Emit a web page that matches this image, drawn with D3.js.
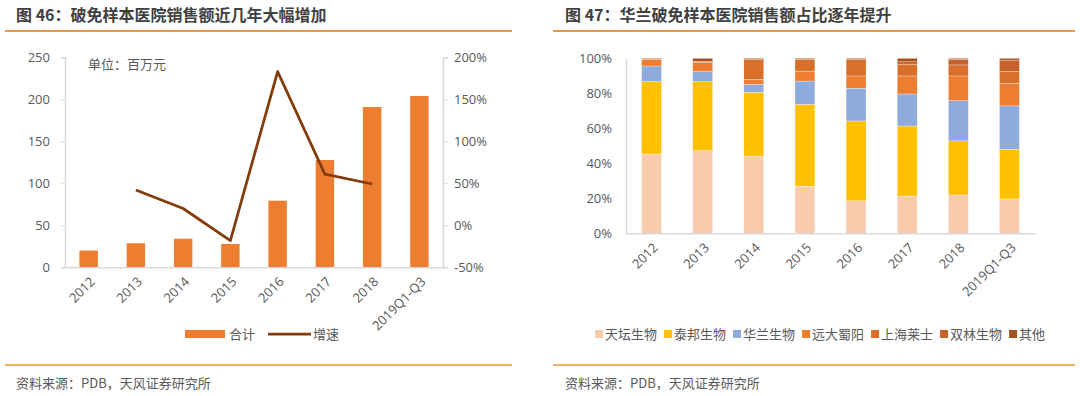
<!DOCTYPE html>
<html>
<head>
<meta charset="utf-8">
<script src="https://cdn.jsdelivr.net/npm/d3@7"></script>
<style>
  body { margin: 0; background: #fff; }
  svg { display: block; font-family: "Noto Sans CJK SC", "Noto Sans", sans-serif; }
</style>
</head>
<body>
<script>
// ---- data ----
var years = ["2012", "2013", "2014", "2015", "2016", "2017", "2018", "2019Q1-Q3"];
var totalSales = [20, 28.6, 34, 27.7, 79.3, 127.7, 190.8, 204];          // 百万元
var growth = [null, 42, 20, -18.3, 183, 61, 49.2, null];                 // %
var leftTicks = [0, 50, 100, 150, 200, 250];
var rightTicks = [-50, 0, 50, 100, 150, 200];

var companies = ["天坛生物", "泰邦生物", "华兰生物", "远大蜀阳", "上海莱士", "双林生物", "其他"];
var tiantan  = [45.3, 47.2, 44.0, 26.9, 18.5, 21.3, 21.9, 19.6];
var taibang  = [41.4, 39.4, 36.6, 46.8, 45.7, 40.0, 30.9, 28.4];
var hualan   = [8.9, 5.8, 4.5, 13.3, 18.7, 18.3, 23.0, 24.8];
var yuanda   = [3.8, 5.1, 2.9, 5.7, 7.0, 10.3, 14.1, 12.9];
var shanghai = [0.6, 0.5, 11.4, 6.7, 9.5, 6.8, 6.3, 6.7];
var shuanglin = [0, 0.3, 0, 0, 0, 1.3, 3.3, 6.6];
var others   = [0, 1.7, 0.6, 0.6, 0.6, 2.0, 0.5, 1.0];
var shareTicks = [0, 20, 40, 60, 80, 100];
var companyColors = ["#F8CBAD", "#FFC000", "#8FAADC", "#ED7D31", "#D8702C", "#C4622A", "#A5521E"];

var W = 1080, H = 396;
var svg = d3.select("body").append("svg").attr("width", W).attr("height", H);

var textGray = "#595959";

// ---- headers / footers ----
function frame(x0, x1, title, textX) {
    svg.append("text")
        .attr("x", textX).attr("y", 21)
        .attr("font-size", 16).attr("font-weight", "bold")
        .style("fill", "#404040")
        .text(title);
    svg.append("line")
        .attr("x1", x0).attr("x2", x1).attr("y1", 31).attr("y2", 31)
        .style("stroke", "#F0963F").style("stroke-width", 2);
    svg.append("line")
        .attr("x1", x0).attr("x2", x1).attr("y1", 365).attr("y2", 365)
        .style("stroke", "#F0963F").style("stroke-width", 1.5);
    svg.append("text")
        .attr("x", textX).attr("y", 388)
        .attr("font-size", 13)
        .style("fill", textGray)
        .text("资料来源：PDB，天风证券研究所");
}
frame(5, 512, "图 46：破免样本医院销售额近几年大幅增加", 16);
frame(553, 1075, "图 47：华兰破免样本医院销售额占比逐年提升", 565);

// ---- left chart ----
var left = { x0: 65, x1: 443, y0: 267.3, y1: 57.3 };

var x = d3.scaleBand().domain(years).range([left.x0, left.x1]).paddingInner(0.61).paddingOuter(0.305);
var yL = d3.scaleLinear().domain([0, 250]).range([left.y0, left.y1]);
var yR = d3.scaleLinear().domain([-50, 200]).range([left.y0, left.y1]);

function styleAxis(g) {
    g.selectAll("text").attr("font-size", 13).style("fill", textGray)
        .style("font-family", "'Open Sans', 'Noto Sans', sans-serif");
    g.selectAll("line").style("stroke", "#D9D9D9");
    g.select(".domain").style("stroke", "#D9D9D9").style("stroke-width", 1.5);
}

svg.append("g").attr("transform", "translate(" + left.x0 + ",0)")
    .call(d3.axisLeft(yL).tickValues(leftTicks).tickSize(4).tickPadding(11))
    .call(styleAxis);
svg.append("g").attr("transform", "translate(" + left.x1 + ",0)")
    .call(d3.axisRight(yR).tickValues(rightTicks).tickSize(5).tickPadding(6).tickFormat(function (d) { return d + "%"; }))
    .call(styleAxis);

svg.selectAll(".sales").data(years).enter().append("rect")
    .attr("x", function (d) { return x(d); })
    .attr("width", x.bandwidth())
    .attr("y", function (d, i) { return yL(totalSales[i]); })
    .attr("height", function (d, i) { return yL(0) - yL(totalSales[i]); })
    .style("fill", "#ED7D31");

var bottomL = svg.append("g").attr("transform", "translate(0," + left.y0 + ")")
    .call(d3.axisBottom(x).tickSize(0).tickPadding(0))
    .call(styleAxis);
bottomL.selectAll("text")
    .attr("text-anchor", "end")
    .attr("transform", "translate(4,12) rotate(-45)")
    .attr("dy", "0.35em");

var line = d3.line()
    .defined(function (d) { return d.v !== null; })
    .x(function (d) { return x(d.year) + x.bandwidth() / 2; })
    .y(function (d) { return yR(d.v); });
svg.append("path")
    .datum(years.map(function (yr, i) { return { year: yr, v: growth[i] }; }))
    .attr("d", line)
    .style("fill", "none")
    .style("stroke", "#843C0C")
    .style("stroke-width", 2.75)
    .style("stroke-linejoin", "round");

svg.append("text")
    .attr("x", 88).attr("y", 69)
    .attr("font-size", 13).style("fill", textGray)
    .text("单位：百万元");

// legend left
svg.append("rect").attr("x", 185).attr("y", 330).attr("width", 40).attr("height", 8).style("fill", "#ED7D31");
svg.append("text").attr("x", 229).attr("y", 339).attr("font-size", 13).style("fill", textGray).text("合计");
svg.append("line").attr("x1", 268).attr("x2", 311).attr("y1", 334).attr("y2", 334)
    .style("stroke", "#843C0C").style("stroke-width", 2.75);
svg.append("text").attr("x", 313).attr("y", 339).attr("font-size", 13).style("fill", textGray).text("增速");

// ---- right chart ----
var right = { x0: 626, x1: 1035, y0: 233.3, y1: 58.3 };
var x2 = d3.scaleBand().domain(years).range([right.x0, right.x1]).paddingInner(0.61).paddingOuter(0.305);
var yS = d3.scaleLinear().domain([0, 100]).range([right.y0, right.y1]);

var shareSeries = [tiantan, taibang, hualan, yuanda, shanghai, shuanglin, others];
var rows = years.map(function (yr, i) {
    var r = { year: yr };
    companies.forEach(function (c, k) { r[c] = shareSeries[k][i]; });
    return r;
});
var stacked = d3.stack().keys(companies)(rows);

svg.append("g").attr("transform", "translate(" + right.x0 + ",0)")
    .call(d3.axisLeft(yS).tickValues(shareTicks).tickSize(0).tickPadding(14).tickFormat(function (d) { return d + "%"; }))
    .call(styleAxis);

svg.append("g").selectAll("g").data(stacked).enter().append("g")
    .style("fill", function (d, k) { return companyColors[k]; })
    .selectAll("rect").data(function (d) { return d; }).enter().append("rect")
    .attr("x", function (d) { return x2(d.data.year); })
    .attr("width", x2.bandwidth())
    .attr("y", function (d) { return yS(d[1]); })
    .attr("height", function (d) { return yS(d[0]) - yS(d[1]); })
    .style("stroke", "#fff").style("stroke-width", 0.3);

var bottomR = svg.append("g").attr("transform", "translate(0," + right.y0 + ")")
    .call(d3.axisBottom(x2).tickSize(0).tickPadding(0))
    .call(styleAxis);
bottomR.selectAll("text")
    .attr("text-anchor", "end")
    .attr("transform", "translate(4,12) rotate(-45)")
    .attr("dy", "0.35em");

// legend right
var lx = 595;
companies.forEach(function (c, k) {
    svg.append("rect").attr("x", lx).attr("y", 330).attr("width", 8).attr("height", 8)
        .style("fill", companyColors[k]);
    var t = svg.append("text").attr("x", lx + 10).attr("y", 339)
        .attr("font-size", 13).style("fill", textGray).text(c);
    lx += 10 + t.node().getComputedTextLength() + 7;
});
</script>
</body>
</html>
